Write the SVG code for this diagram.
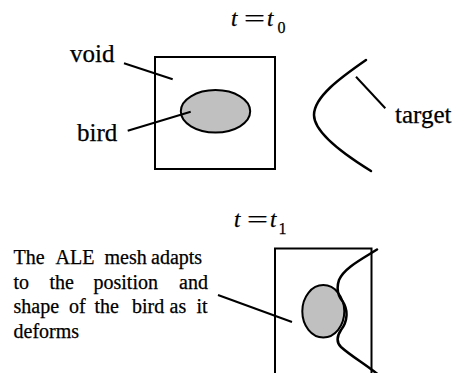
<svg xmlns="http://www.w3.org/2000/svg" width="457" height="373" viewBox="0 0 457 373">
<style>
text{font-family:'Liberation Serif','Times New Roman',Tinos,'DejaVu Serif',serif;fill:#000;stroke:#000;stroke-width:0.25}
.lbl{font-size:25px}
.body{font-size:20px}
.eq{font-size:23px}
.it{font-style:italic}
.sub{font-size:16px}
.box{fill:none;stroke:#000;stroke-width:2}
.bird{fill:#c0c0c0;stroke:#000;stroke-width:2}
.curve{fill:none;stroke:#000;stroke-width:2.5;stroke-linecap:round}
.lead{stroke:#000;stroke-width:2;fill:none}
</style>
<rect width="457" height="373" fill="#fff"/>
<g id="eq0">
<text class="eq it" x="231" y="26">t</text>
<text class="eq" x="244" y="26" textLength="21" lengthAdjust="spacingAndGlyphs">=</text>
<text class="eq it" x="267" y="26">t</text>
<text class="eq sub" x="277.5" y="33">0</text>
</g>
<g id="void0">
<rect class="box" x="155" y="57" width="120" height="112"/>
</g>
<g id="bird0">
<ellipse class="bird" cx="215.5" cy="111.3" rx="34.7" ry="21.2"/>
</g>
<g id="target0">
<path class="curve" d="M366,60 C340,78 314,97 314,115 C314,133 345,155 371,171"/>
</g>
<g id="label-void"><text class="lbl" x="70" y="62">void</text></g>
<g id="label-bird"><text class="lbl" x="77" y="141">bird</text></g>
<g id="label-target"><text class="lbl" x="395" y="123">target</text></g>
<g id="eq1">
<text class="eq it" x="234" y="227">t</text>
<text class="eq" x="247" y="227" textLength="21" lengthAdjust="spacingAndGlyphs">=</text>
<text class="eq it" x="270" y="227">t</text>
<text class="eq sub" x="278.5" y="234">1</text>
</g>
<g id="mesh1">
<rect class="box" x="275" y="248.5" width="96.5" height="140"/>
</g>
<g id="bird1">
<ellipse class="bird" cx="323.3" cy="311.3" rx="21" ry="26.2"/>
</g>
<g id="target1">
<path class="curve" d="M377,249.5 C362,259 344,268 339,280 C336,289 338,296 343,302 C348,310 348,321 341,330 C337,336 336,342 341,347 C351,356 365,364 380,376"/>
</g>
<g id="label-ale">
<text class="body" y="264"><tspan x="13.5">The</tspan><tspan x="55.5">ALE</tspan><tspan x="104.5">mesh</tspan><tspan x="151">adapts</tspan></text>
<text class="body" y="289"><tspan x="13.5">to</tspan><tspan x="49.5">the</tspan><tspan x="93.5">position</tspan><tspan x="179">and</tspan></text>
<text class="body" y="313"><tspan x="13.5">shape</tspan><tspan x="69">of</tspan><tspan x="94.5">the</tspan><tspan x="132">bird</tspan><tspan x="169.5">as</tspan><tspan x="196.5">it</tspan></text>
<text class="body" y="337.5"><tspan x="13.5">deforms</tspan></text>
</g>
<g id="connectors">
<line class="lead" x1="124" y1="63.3" x2="172.7" y2="79.3"/>
<line class="lead" x1="127.7" y1="130.7" x2="190.7" y2="111.7"/>
<line class="lead" x1="356" y1="76.7" x2="385.3" y2="108.3"/>
<line class="lead" x1="218" y1="295" x2="292" y2="322"/>
</g>
</svg>
